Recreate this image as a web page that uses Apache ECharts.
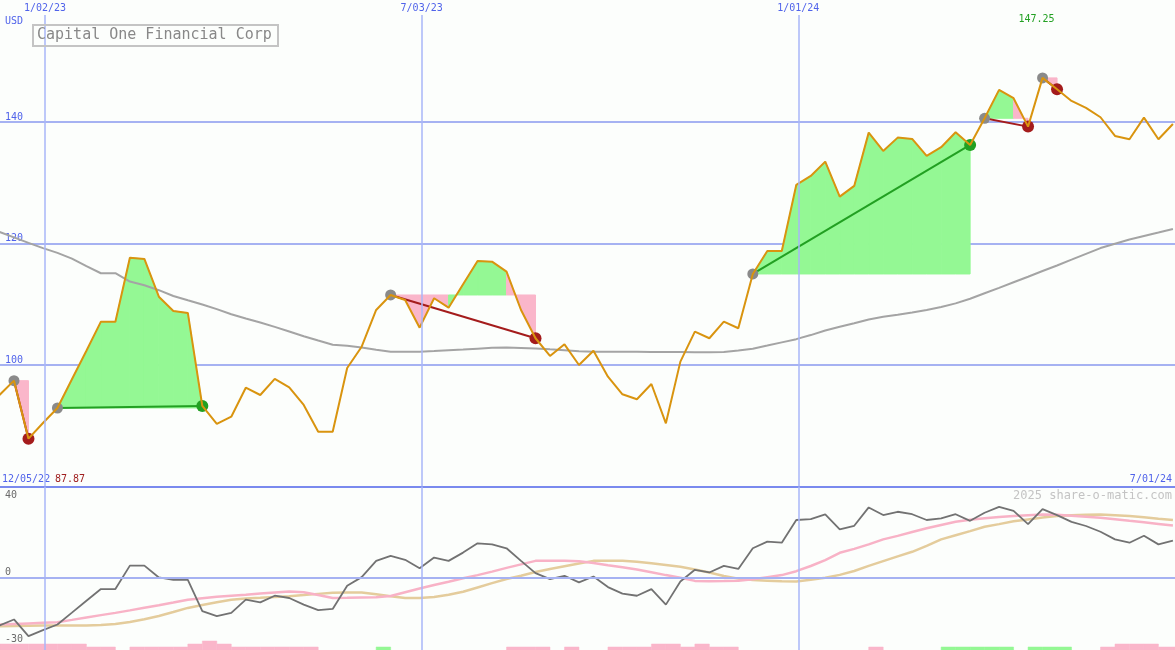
<!DOCTYPE html>
<html><head><meta charset="utf-8">
<script src="https://cdn.jsdelivr.net/npm/echarts@6/dist/echarts.min.js"></script>
<style>html,body{margin:0;padding:0;background:#fcfefc}#c{width:1175px;height:650px}</style>
</head><body><div id="c"></div>
<script>
const chartTitle = 'Capital One Financial Corp';
const currency = 'USD';
const startLabel = '12/05/22';
const endLabel = '7/01/24';
const watermark = '2025 share-o-matic.com';
const dateLabels = ['1/02/23', '7/03/23', '1/01/24'];
const datePos = [3.143, 29.143, 55.143];   // in weeks after the first plotted week
const xStart = 0.0345, xEnd = 81.143;
const priceTicks = [100, 120, 140];
const oscTicks = [40, 0, -30];

const price = [95.06, 97.42, 87.87, 90.45, 92.92, 97.65, 102.35, 107.13, 107.13, 117.66,
  117.45, 111.24, 108.89, 108.56, 93.25, 90.29, 91.49, 96.26, 95.06, 97.70,
  96.33, 93.42, 89.02, 89.02, 99.5, 103.01, 109.05, 111.52, 110.7, 106.14,
  110.98, 109.43, 113.28, 117.12, 117.0, 115.36, 109.05, 104.4, 101.48, 103.4,
  100.0, 102.35, 98.07, 95.18, 94.35, 96.87, 90.4, 100.55, 105.48, 104.4,
  107.13, 106.04, 114.98, 118.77, 118.77, 129.63, 131.11, 133.47, 127.7, 129.47,
  138.24, 135.23, 137.42, 137.2, 134.4, 135.84, 138.3, 136.21, 140.6, 145.27,
  143.9, 139.23, 147.25, 145.38, 143.46, 142.3, 140.77, 137.7, 137.15, 140.71,
  137.15, 139.67];

const movingAvg = [121.89, 121.0, 120.1, 119.23, 118.45, 117.5, 116.26, 115.1, 115.1, 113.73,
  113.12, 112.31, 111.36, 110.65, 109.96, 109.2, 108.35, 107.65, 107.0, 106.27,
  105.51, 104.74, 104.02, 103.33, 103.16, 102.86, 102.52, 102.19, 102.19, 102.19,
  102.29, 102.42, 102.55, 102.69, 102.83, 102.88, 102.81, 102.73, 102.57, 102.42,
  102.27, 102.19, 102.17, 102.16, 102.16, 102.14, 102.13, 102.13, 102.11, 102.09,
  102.14, 102.39, 102.67, 103.19, 103.72, 104.25, 104.92, 105.68, 106.29, 106.88,
  107.49, 107.93, 108.28, 108.64, 109.05, 109.55, 110.14, 110.9, 111.8, 112.69,
  113.61, 114.53, 115.46, 116.38, 117.33, 118.29, 119.24, 119.95, 120.64, 121.22,
  121.79, 122.39];

const osc = [-23.1, -20.2, -28.3, -25.4, -22.65, -16.9, -11.1, -5.46, -5.46, 5.9,
  5.9, 0.16, -0.96, -0.96, -16.2, -18.6, -17.0, -10.6, -11.9, -8.7,
  -9.8, -13.0, -15.7, -15.1, -3.86, 0.32, 8.2, 10.6, 8.7, 4.66,
  9.8, 8.2, 12.2, 16.7, 16.2, 14.3, 8.2, 2.25, -0.64, 0.96,
  -2.25, 0.64, -4.5, -7.7, -8.7, -5.5, -13.0, -1.8, 3.86, 2.57,
  5.8, 4.3, 14.3, 17.5, 17.0, 28.0, 28.4, 30.7, 23.5, 25.2,
  34.1, 30.4, 32.0, 30.8, 28.0, 28.8, 30.8, 27.6, 31.5, 34.4,
  32.4, 26.0, 33.3, 30.4, 27.1, 25.1, 22.3, 18.6, 17.0, 20.4,
  16.2, 18.0];

const oscFast = [-22.7, -22.4, -22.1, -21.8, -21.5, -20.4, -19.2, -18.1, -17.0, -15.8,
  -14.5, -13.3, -12.0, -10.6, -9.9, -9.2, -8.7, -8.2, -7.6, -7.1,
  -6.6, -7.0, -8.3, -9.8, -9.7, -9.5, -9.4, -8.8, -7.0, -5.2,
  -3.5, -1.9, -0.2, 1.3, 3.0, 4.8, 6.5, 8.2, 8.2, 8.2,
  8.0, 7.2, 6.1, 5.1, 4.0, 2.7, 1.3, 0.0, -1.5, -1.7,
  -1.6, -1.4, -0.7, 0.3, 1.3, 3.2, 5.7, 8.6, 12.1, 14.0,
  16.2, 18.6, 20.3, 22.2, 24.0, 25.6, 27.2, 28.1, 28.9, 29.5,
  29.9, 30.3, 30.7, 30.5, 30.1, 29.6, 29.1, 28.4, 27.6, 26.9,
  26.1, 25.3];

const oscSlow = [-23.5, -23.4, -23.2, -23.1, -23.1, -23.1, -23.1, -22.9, -22.4, -21.4,
  -20.1, -18.5, -16.6, -14.6, -13.2, -11.9, -10.6, -10.0, -9.7, -9.3,
  -8.9, -8.4, -7.8, -7.2, -7.1, -7.1, -8.0, -9.0, -9.8, -9.8,
  -9.3, -8.2, -6.8, -4.7, -2.6, -0.6, 1.0, 2.8, 4.3, 5.6,
  6.9, 8.2, 8.2, 8.2, 7.8, 7.0, 6.2, 5.3, 4.0, 2.6,
  0.9, -0.4, -1.1, -1.4, -1.7, -1.8, -1.0, 0.0, 1.4, 3.3,
  5.8, 8.1, 10.4, 12.6, 15.5, 18.6, 20.6, 22.6, 24.7, 26.0,
  27.4, 28.3, 29.2, 30.0, 30.3, 30.5, 30.7, 30.3, 29.9, 29.3,
  28.6, 28.0];

// signal histogram: negative = pink, positive = green, magnitude = level
const signalBars = [-2, -2, -2, -2, -2, -2, -1, -1, 0, -1,
  -1, -1, -1, -2, -3, -2, -1, -1, -1, -1,
  -1, -1, 0, 0, 0, 0, 1, 0, 0, 0,
  0, 0, 0, 0, 0, -1, -1, -1, 0, -1,
  0, 0, -1, -1, -1, -2, -2, -1, -2, -1,
  -1, 0, 0, 0, 0, 0, 0, 0, 0, 0,
  -1, 0, 0, 0, 0, 1, 1, 1, 1, 1,
  0, 1, 1, 1, 0, 0, -1, -2, -2, -2,
  -1, -1];

const tradeEntry = [1, 4, 27, 52, 68, 72];
const tradeExit = [2, 14, 37, 67, 71, 73];

const FONT = 'DejaVu Sans Mono';
const BLUE = '#5063ea';
const GRID_H = '#a6b2f2';
const GRID_V = '#a8b6f8';
const GREEN_FILL = '#94f894';
const PINK_FILL = '#fab6ca';
const GAIN = '#22a022';
const LOSS = '#a41c1c';

const chart = echarts.init(document.getElementById('c'), null, {renderer: 'canvas'});

function fillItem(params, api) {
  const i = params.dataIndex, e = tradeEntry[i], x = tradeExit[i], lvl = price[e];
  const children = [];
  for (let j = e; j < x; j++) {
    const col = price[j + 1] >= lvl ? GREEN_FILL : PINK_FILL;
    children.push({
      type: 'polygon',
      shape: {points: [api.coord([j, lvl]), api.coord([j, price[j]]), api.coord([j + 1, price[j + 1]]), api.coord([j + 1, lvl])]},
      style: {fill: col, stroke: col, lineWidth: 1}
    });
  }
  return {type: 'group', children};
}
function tradeLineItem(params, api) {
  const i = params.dataIndex, e = tradeEntry[i], x = tradeExit[i];
  const a = api.coord([e, price[e]]), b = api.coord([x, price[x]]);
  return {type: 'line', shape: {x1: a[0], y1: a[1], x2: b[0], y2: b[1]},
    style: {stroke: price[x] >= price[e] ? GAIN : LOSS, lineWidth: 2}};
}
function barItem(params, api) {
  const k = api.value(0), v = api.value(1);
  if (!v) return null;
  const p0 = api.coord([k, 0]), p1 = api.coord([k + 1, Math.abs(v)]);
  const col = v > 0 ? GREEN_FILL : PINK_FILL;
  return {type: 'rect', shape: {x: p0[0], y: p1[1], width: p1[0] - p0[0], height: p0[1] - p1[1]},
    style: {fill: col, stroke: col, lineWidth: 0.5}};
}

const pts = arr => arr.map((v, k) => [k, v]);

const option = {
  animation: false,
  backgroundColor: '#fcfefc',
  title: {
    text: chartTitle, left: 33, top: 25, padding: [3, 6, 3, 4],
    borderColor: '#c4c4c4', borderWidth: 2,
    textStyle: {fontFamily: FONT, fontSize: 15, fontWeight: 'normal', color: '#888888'}
  },
  grid: [
    {left: 0, right: 0, top: 15, height: 471.5, outerBoundsMode: 'none'},
    {left: 0, right: 0, top: 487, height: 163, outerBoundsMode: 'none'}
  ],
  xAxis: [
    {gridIndex: 0, type: 'value', min: xStart, max: xEnd,
      axisLine: {show: true, onZero: false, lineStyle: {color: '#7a8aee', width: 2}},
      axisTick: {show: false}, axisLabel: {show: false}, splitLine: {show: false}},
    {gridIndex: 1, type: 'value', min: xStart, max: xEnd, show: false, splitLine: {show: false}}
  ],
  yAxis: [
    {gridIndex: 0, type: 'value', min: 80, max: 157.6, interval: 20,
      name: currency, nameLocation: 'end', nameGap: -6,
      nameTextStyle: {color: BLUE, fontFamily: FONT, fontSize: 10, align: 'left', verticalAlign: 'middle', padding: [0, 0, 0, 5]},
      axisLine: {show: false}, axisTick: {show: false},
      axisLabel: {inside: true, margin: 5, verticalAlign: 'bottom', color: BLUE, fontFamily: FONT, fontSize: 10,
        formatter: v => priceTicks.includes(v) ? String(v) : ''},
      splitLine: {show: true, showMinLine: false, showMaxLine: false, lineStyle: {color: GRID_H, width: 2}}},
    {gridIndex: 1, type: 'value', min: -35, max: 44, interval: 5,
      axisLine: {show: false}, axisTick: {show: false}, splitLine: {show: false},
      axisLabel: {inside: true, margin: 5, verticalAlign: 'middle', color: '#6a6a6a', fontFamily: FONT, fontSize: 10,
        formatter: v => oscTicks.includes(v) ? (v === 0 ? '{up|0}' : String(v)) : '',
        rich: {up: {color: '#6a6a6a', fontFamily: FONT, fontSize: 10, padding: [0, 0, 10, 0]}}}},
    {gridIndex: 1, type: 'value', min: 0, max: 54.33, show: false, splitLine: {show: false}}
  ],
  graphic: [
    {type: 'text', x: 2, y: 479, silent: true,
      style: {text: startLabel, fill: BLUE, font: '10px ' + FONT, verticalAlign: 'middle'}},
    {type: 'text', x: 55, y: 479, silent: true,
      style: {text: Math.min(...price).toFixed(2), fill: '#a02020', font: '10px ' + FONT, verticalAlign: 'middle'}},
    {type: 'text', x: 1172, y: 479, silent: true,
      style: {text: endLabel, fill: BLUE, font: '10px ' + FONT, align: 'right', verticalAlign: 'middle'}},
    {type: 'text', x: 1172, y: 496, silent: true,
      style: {text: watermark, fill: '#c4c4c4', font: '12px ' + FONT, align: 'right', verticalAlign: 'middle'}}
  ],
  series: [
    {type: 'custom', name: 'fills', xAxisIndex: 0, yAxisIndex: 0, silent: true,
      renderItem: fillItem, data: tradeEntry.map(e => [e, price[e]])},
    {type: 'line', name: 'ma', xAxisIndex: 0, yAxisIndex: 0, data: pts(movingAvg), silent: true,
      showSymbol: false, symbol: 'none', lineStyle: {color: '#a4a4a4', width: 2},
      markLine: {silent: true, symbol: ['none', 'none'], animation: false,
        lineStyle: {color: GRID_V, width: 1.5, type: 'solid'},
        label: {show: true, position: 'end', distance: 2, formatter: '{b}', color: BLUE, fontFamily: FONT, fontSize: 10},
        data: dateLabels.map((t, i) => ({name: t, xAxis: datePos[i]}))}},
    {type: 'custom', name: 'tradeLines', xAxisIndex: 0, yAxisIndex: 0, silent: true,
      renderItem: tradeLineItem, data: tradeEntry.map(e => [e, price[e]])},
    {type: 'scatter', name: 'entries', xAxisIndex: 0, yAxisIndex: 0, silent: true,
      symbolSize: 11, itemStyle: {color: '#8a8a8a', opacity: 1},
      data: tradeEntry.map(e => [e, price[e]])},
    {type: 'scatter', name: 'exits', xAxisIndex: 0, yAxisIndex: 0, silent: true,
      symbolSize: 12,
      data: tradeExit.map((x, i) => ({value: [x, price[x]],
        itemStyle: {color: price[x] >= price[tradeEntry[i]] ? GAIN : LOSS, opacity: 1}}))},
    {type: 'line', name: 'price', xAxisIndex: 0, yAxisIndex: 0, data: pts(price), silent: true,
      showSymbol: false, symbol: 'none', lineStyle: {color: '#d9940f', width: 2},
      markPoint: {symbol: 'circle', symbolSize: 1, itemStyle: {color: 'rgba(0,0,0,0)'}, silent: true,
        label: {show: true, position: 'inside', offset: [-6, -58], color: GAIN, fontFamily: FONT, fontSize: 10,
          formatter: p => Number(p.value).toFixed(2)},
        data: [{type: 'max', valueDim: 'y'}]}},
    {type: 'custom', name: 'signal', xAxisIndex: 1, yAxisIndex: 2, silent: true,
      renderItem: barItem, data: pts(signalBars)},
    {type: 'line', name: 'slow', xAxisIndex: 1, yAxisIndex: 1, data: pts(oscSlow), silent: true,
      showSymbol: false, symbol: 'none', lineStyle: {color: '#e4cc9c', width: 2.5},
      markLine: {silent: true, symbol: ['none', 'none'], animation: false, label: {show: false},
        data: [
          ...datePos.map(p => ({xAxis: p, lineStyle: {color: GRID_V, width: 1.5, type: 'solid'}})),
          {yAxis: 0, lineStyle: {color: GRID_H, width: 2, type: 'solid'}}
        ]}},
    {type: 'line', name: 'fast', xAxisIndex: 1, yAxisIndex: 1, data: pts(oscFast), silent: true,
      showSymbol: false, symbol: 'none', lineStyle: {color: '#f8b2c6', width: 2.5}},
    {type: 'line', name: 'osc', xAxisIndex: 1, yAxisIndex: 1, data: pts(osc), silent: true,
      showSymbol: false, symbol: 'none', lineStyle: {color: '#727272', width: 1.8}}
  ]
};
chart.setOption(option);
</script>
</body></html>
